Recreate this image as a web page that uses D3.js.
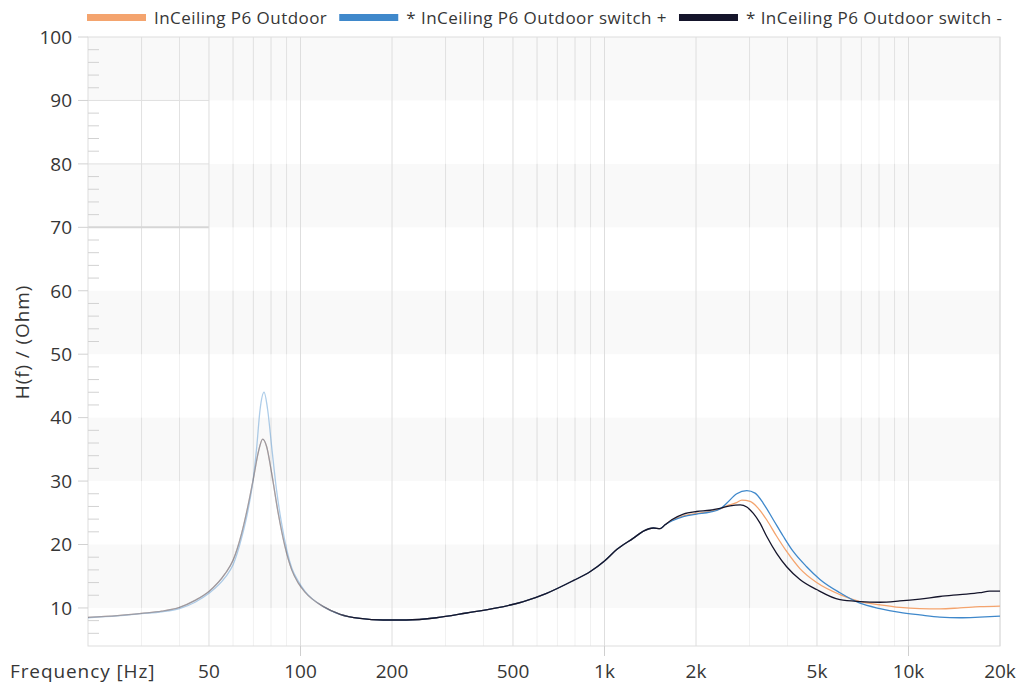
<!DOCTYPE html>
<html>
<head>
<meta charset="utf-8">
<script src="https://cdn.jsdelivr.net/npm/d3@7"></script>
<style>
  body { margin: 0; background: #fff; }
  svg { display: block; font-family: "Open Sans", Lato, sans-serif; }
</style>
</head>
<body>
<svg id="chart" width="1022" height="683"></svg>
<script>
// Impedance curves, frequency in Hz and magnitude in Ohm
const seriesNames = ["InCeiling P6 Outdoor", "* InCeiling P6 Outdoor switch +", "* InCeiling P6 Outdoor switch -"];
const seriesColors = ["#f4a46e", "#3f88cb", "#15152b"];

const freqTicks = [50, 100, 200, 500, 1000, 2000, 5000, 10000, 20000];
const freqTickLabels = ["50", "100", "200", "500", "1k", "2k", "5k", "10k", "20k"];
const ohmTicks = [10, 20, 30, 40, 50, 60, 70, 80, 90, 100];

const outdoorHz = [20, 25, 30, 35, 40, 45, 50, 56.5, 60, 64, 67.4, 70, 72.7, 75.1, 77.4, 80.4, 84.5, 88.9, 93.6, 98.4, 103.5, 119, 135, 157, 187, 223, 280, 352, 442, 541, 645, 789, 896, 1000, 1097, 1245, 1343, 1449, 1524, 1582, 1664, 1817, 2010, 2222, 2398, 2523, 2718, 2830, 3013, 3205, 3415, 3684, 3974, 4394, 4987, 5950, 6924, 8054, 9369, 10900, 12680, 14750, 17160, 20000];
const outdoorOhm = [8.5, 8.8, 9.15, 9.5, 10.1, 11.2, 12.6, 15.4, 17.5, 21.7, 26.4, 30.4, 34.6, 36.6, 35.4, 31.2, 24.9, 19.7, 16.0, 13.9, 12.5, 10.2, 9.0, 8.35, 8.1, 8.1, 8.45, 9.2, 10.0, 11.0, 12.3, 14.3, 15.7, 17.4, 19.2, 21.0, 22.1, 22.6, 22.5, 23.1, 23.8, 24.5, 24.9, 25.2, 25.6, 26.1, 26.6, 27.0, 26.8, 25.7, 23.9, 21.3, 18.9, 16.2, 14.0, 12.1, 11.0, 10.5, 10.1, 9.9, 9.85, 10.0, 10.2, 10.3];

const switchPlusHz = [20, 25, 30, 35, 40, 45, 50, 56.5, 60, 64, 67.4, 70, 71.8, 73.6, 75.9, 78.0, 80.4, 83.4, 86.6, 90.1, 93.6, 98.4, 103.5, 119, 135, 157, 187, 223, 280, 352, 442, 541, 645, 789, 896, 1000, 1097, 1245, 1343, 1449, 1524, 1582, 1664, 1817, 2010, 2222, 2398, 2523, 2724, 2938, 3128, 3329, 3592, 3873, 4176, 4623, 5114, 5950, 6924, 8054, 9369, 10900, 12680, 14750, 17160, 20000];
const switchPlusOhm = [8.45, 8.75, 9.1, 9.4, 9.9, 10.9, 12.3, 14.8, 16.8, 21.0, 25.7, 30.5, 35.4, 41.2, 44.0, 41.2, 35.4, 28.6, 23.4, 19.2, 16.3, 14.2, 12.6, 10.2, 9.0, 8.35, 8.1, 8.1, 8.45, 9.2, 10.0, 11.0, 12.3, 14.3, 15.7, 17.4, 19.2, 21.0, 22.1, 22.6, 22.5, 23.1, 23.7, 24.4, 24.8, 25.1, 25.6, 26.5, 28.0, 28.5, 28.1, 26.5, 23.9, 21.3, 18.9, 16.5, 14.5, 12.4, 10.75, 9.9, 9.3, 8.9, 8.55, 8.45, 8.55, 8.7];

const switchMinusHz = [20, 25, 30, 35, 40, 45, 50, 56.5, 60, 64, 67.4, 70, 72.7, 75.1, 77.4, 80.4, 84.5, 88.9, 93.6, 98.4, 103.5, 119, 135, 157, 187, 223, 280, 352, 442, 541, 645, 789, 896, 1000, 1097, 1245, 1343, 1449, 1524, 1582, 1664, 1817, 2010, 2222, 2398, 2588, 2796, 2938, 3088, 3245, 3415, 3684, 3974, 4394, 4987, 5950, 6924, 8054, 9369, 10900, 12680, 14750, 17160, 18500, 20000];
const switchMinusOhm = [8.5, 8.8, 9.15, 9.5, 10.1, 11.2, 12.6, 15.4, 17.5, 21.7, 26.4, 30.4, 34.6, 36.6, 35.4, 31.2, 24.9, 19.7, 16.0, 13.9, 12.5, 10.2, 9.0, 8.35, 8.1, 8.1, 8.45, 9.2, 10.0, 11.0, 12.3, 14.3, 15.7, 17.4, 19.2, 21.0, 22.1, 22.6, 22.5, 23.1, 23.9, 24.8, 25.2, 25.4, 25.7, 26.1, 26.25, 25.9, 24.9, 23.4, 21.3, 18.6, 16.5, 14.5, 12.9, 11.3, 11.0, 10.9, 11.1, 11.4, 11.8, 12.1, 12.4, 12.65, 12.65];

const seriesHz = [outdoorHz, switchPlusHz, switchMinusHz];
const seriesOhm = [outdoorOhm, switchPlusOhm, switchMinusOhm];

(function draw() {
  const svg = d3.select("#chart");
  const plotLeft = 88, plotRight = 1000, plotTop = 37, plotBottom = 646;
  const textColor = "#363636";

  const x = d3.scaleLog().domain([20, 20000]).range([plotLeft, plotRight]);
  const y = d3.scaleLinear().domain([4, 100]).range([plotBottom, plotTop]);

  // every 1..9 multiple per decade inside the domain
  const allFreqs = [];
  for (let dec = 10; dec <= 10000; dec *= 10) {
    for (let m = 1; m <= 9; m++) {
      const f = m * dec;
      if (f > 20 && f < 20000) allFreqs.push(f);
    }
  }
  const minorFreqs = allFreqs.filter(f => !freqTicks.includes(f));

  // alternating bands every 10 Ohm
  const bandLows = ohmTicks.filter(t => (t / 10) % 2 === 1);
  const grid = svg.append("g");
  grid.selectAll("rect.band").data(bandLows).join("rect")
    .attr("x", plotLeft).attr("width", plotRight - plotLeft)
    .attr("y", d => y(d + 10)).attr("height", d => y(d) - y(d + 10))
    .attr("fill", "#f9f9f9");

  // faint minor verticals everywhere, stronger inside the shaded bands
  grid.append("g").selectAll("line").data(minorFreqs).join("line")
    .attr("x1", d => x(d)).attr("x2", d => x(d))
    .attr("y1", plotTop).attr("y2", plotBottom)
    .attr("stroke", "#f1f1f1");
  bandLows.forEach(lo => {
    grid.append("g").selectAll("line").data(minorFreqs).join("line")
      .attr("x1", d => x(d)).attr("x2", d => x(d))
      .attr("y1", y(lo + 10)).attr("y2", y(lo))
      .attr("stroke", "#e2e2e2");
  });
  // corner block of the low-frequency grid
  const cornerFreqs = minorFreqs.filter(f => f < 50);
  grid.append("g").selectAll("line").data(cornerFreqs).join("line")
    .attr("x1", d => x(d)).attr("x2", d => x(d))
    .attr("y1", y(100)).attr("y2", y(60))
    .attr("stroke", "#e2e2e2");
  grid.append("g").selectAll("line").data([90, 80, 70]).join("line")
    .attr("x1", plotLeft).attr("x2", x(50))
    .attr("y1", d => y(d)).attr("y2", d => y(d))
    .attr("stroke", d => d === 70 ? "#d6d6d6" : "#e0e0e0")
    .attr("stroke-width", d => d === 70 ? 2 : 1);

  // labelled frequency lines
  grid.append("g").selectAll("line").data(freqTicks).join("line")
    .attr("x1", d => x(d)).attr("x2", d => x(d))
    .attr("y1", plotTop).attr("y2", plotBottom)
    .attr("stroke", "#dedede");

  // plot frame
  grid.append("rect")
    .attr("x", plotLeft).attr("y", plotTop)
    .attr("width", plotRight - plotLeft).attr("height", plotBottom - plotTop)
    .attr("fill", "none").attr("stroke", "#dddddd");

  // y ticks: outer major marks, inner minor marks every 2 Ohm
  const yMinor = d3.range(6, 100, 2).filter(v => v % 10 !== 0);
  grid.append("g").selectAll("line").data(yMinor).join("line")
    .attr("x1", plotLeft).attr("x2", plotLeft + 11)
    .attr("y1", d => y(d)).attr("y2", d => y(d))
    .attr("stroke", "#d2d2d2");
  grid.append("g").selectAll("line").data(ohmTicks).join("line")
    .attr("x1", plotLeft - 10).attr("x2", plotLeft)
    .attr("y1", d => y(d)).attr("y2", d => y(d))
    .attr("stroke", "#d2d2d2");
  // decade marks below the frame
  grid.append("g").selectAll("line").data([100, 1000, 10000]).join("line")
    .attr("x1", d => x(d)).attr("x2", d => x(d))
    .attr("y1", plotBottom).attr("y2", plotBottom + 10)
    .attr("stroke", "#cfcfcf");

  // tick labels
  svg.append("g").selectAll("text").data(ohmTicks).join("text")
    .attr("x", 72).attr("y", d => y(d)).attr("dy", "0.36em")
    .attr("text-anchor", "end").attr("font-size", 19).attr("fill", textColor)
    .text(d => d);
  svg.append("g").selectAll("text").data(freqTicks).join("text")
    .attr("x", d => x(d)).attr("y", 678)
    .attr("text-anchor", "middle").attr("font-size", 19).attr("fill", textColor)
    .text((d, i) => freqTickLabels[i]);
  svg.append("text").attr("x", 10).attr("y", 678)
    .attr("font-size", 19).attr("letter-spacing", 0.9).attr("fill", textColor)
    .text("Frequency [Hz]");
  svg.append("text")
    .attr("transform", "translate(29,342) rotate(-90)")
    .attr("text-anchor", "middle").attr("font-size", 19).attr("letter-spacing", 0.9)
    .attr("fill", textColor)
    .text("H(f) / (Ohm)");

  // low-frequency part of the traces is drawn paler
  const fadeStart = x(112), fadeEnd = x(150);
  const defs = svg.append("defs");
  const grad = defs.append("linearGradient").attr("id", "lowFade")
    .attr("gradientUnits", "userSpaceOnUse")
    .attr("x1", fadeStart).attr("x2", fadeEnd).attr("y1", 0).attr("y2", 0);
  grad.append("stop").attr("offset", 0).attr("stop-color", "#fff").attr("stop-opacity", 0.42);
  grad.append("stop").attr("offset", 1).attr("stop-color", "#fff").attr("stop-opacity", 1);
  defs.append("mask").attr("id", "traceMask")
    .attr("maskUnits", "userSpaceOnUse")
    .attr("x", 0).attr("y", 0).attr("width", 1022).attr("height", 683)
    .append("rect").attr("x", 0).attr("y", 0).attr("width", 1022).attr("height", 683)
    .attr("fill", "url(#lowFade)");

  // curves
  const line = d3.line().x(d => x(d[0])).y(d => y(d[1])).curve(d3.curveMonotoneX);
  const curves = svg.append("g").attr("mask", "url(#traceMask)");
  seriesHz.forEach((hz, i) => {
    const pts = hz.map((f, k) => [f, seriesOhm[i][k]]);
    curves.append("path").datum(pts)
      .attr("d", line)
      .attr("fill", "none")
      .attr("stroke", seriesColors[i])
      .attr("stroke-width", 1.3)
      .attr("stroke-linejoin", "round");
  });

  // legend
  const legend = svg.append("g");
  let lx = 87;
  seriesNames.forEach((name, i) => {
    legend.append("rect").attr("x", lx).attr("y", 14).attr("width", 59).attr("height", 7)
      .attr("fill", seriesColors[i]);
    const t = legend.append("text").attr("x", lx + 67).attr("y", 23.5)
      .attr("font-size", 17).attr("letter-spacing", 0.45).attr("fill", textColor).text(name);
    lx += 67 + t.node().getComputedTextLength() + 12;
  });
})();
</script>
</body>
</html>
